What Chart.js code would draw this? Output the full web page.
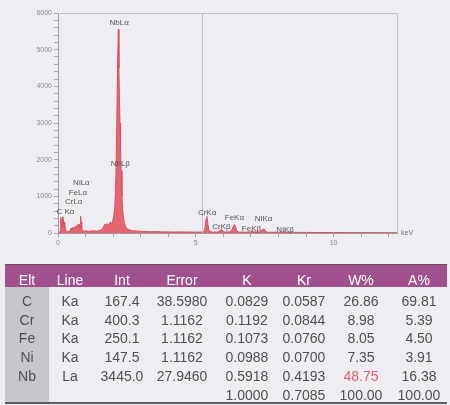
<!DOCTYPE html>
<html>
<head>
<meta charset="utf-8">
<script src="https://cdn.jsdelivr.net/npm/chart.js@4/dist/chart.umd.min.js"></script>
<style>
  html, body { margin: 0; padding: 0; width: 450px; height: 405px; overflow: hidden;
    background: #eeeef2; font-family: "Liberation Sans", Arial, sans-serif; }
  #plot { position: absolute; left: 0; top: 0; }
  #table { position: absolute; left: 0; top: 0; width: 450px; height: 405px; }
  .hdr { position: absolute; left: 5px; top: 264px; width: 442px; height: 22px;
    background: #a1508f; border-top: 1px solid #6d4a63; }
  .eltcol { position: absolute; left: 5px; top: 287px; width: 44px; height: 115px; background: #c7c7cb; }
  .bottom { position: absolute; left: 5px; top: 402px; width: 442px; height: 2px; background: #5e5e62; }
  .cell { position: absolute; width: 80px; text-align: center; font-size: 14px; line-height: 16px;
    color: #4f4f53; white-space: nowrap; }
  .cell.h { color: #ffffff; }
  .cell.hi { color: #e0606e; }
</style>
</head>
<body>
<canvas id="plot" width="450" height="258"></canvas>
<div id="table"></div>
<script>
// EDS spectrum: energy (keV) and counts
const keV = [
  0.00, 0.06, 0.08, 0.10, 0.12, 0.14, 0.16, 0.18, 0.20, 0.22, 0.24, 0.26, 0.28, 0.32, 0.36, 0.40,
  0.44, 0.48, 0.50, 0.53, 0.56, 0.60, 0.63, 0.66, 0.69, 0.72, 0.75, 0.78, 0.80, 0.82, 0.84, 0.86,
  0.90, 0.95, 1.00, 1.10, 1.20, 1.30, 1.40, 1.50, 1.60, 1.65, 1.70, 1.74, 1.78, 1.82, 1.86, 1.90,
  1.94, 1.98, 2.02, 2.06, 2.10, 2.13, 2.16, 2.19, 2.21, 2.23, 2.25, 2.27, 2.29, 2.32, 2.35, 2.38,
  2.42, 2.46, 2.52, 2.60, 2.70, 2.85, 3.00, 3.20, 3.40, 3.60, 3.80, 4.00, 4.20, 4.40, 4.60, 4.80,
  5.00, 5.20, 5.30, 5.34, 5.37, 5.40, 5.43, 5.46, 5.50, 5.60, 5.80, 5.88, 5.93, 5.98, 6.05, 6.25,
  6.32, 6.37, 6.40, 6.44, 6.48, 6.55, 6.80, 6.98, 7.04, 7.10, 7.30, 7.40, 7.45, 7.49, 7.53, 7.60,
  8.00, 8.20, 8.26, 8.32, 9.00, 10.00, 11.00, 12.30
];
const counts = [
  0, 0, 60, 420, 330, 180, 440, 260, 380, 150, 300, 110, 70, 40, 30, 45,
  60, 130, 90, 150, 110, 170, 140, 200, 160, 250, 170, 240, 130, 460, 300, 110,
  70, 50, 60, 45, 55, 60, 50, 70, 90, 170, 240, 200, 260, 210, 250, 300,
  230, 330, 420, 700, 1500, 2800, 4550, 5550, 4500, 3600, 3000, 2300, 1700, 1000, 600, 380,
  250, 160, 110, 80, 60, 55, 45, 40, 35, 40, 30, 30, 25, 30, 25, 28,
  22, 25, 40, 150, 380, 450, 300, 120, 40, 25, 25, 60, 100, 60, 25, 30,
  100, 200, 230, 180, 60, 25, 20, 30, 45, 30, 25, 70, 110, 100, 50, 20,
  20, 25, 35, 20, 15, 12, 10, 8
];

// Peak identification labels (anchor in keV / counts)
const peakNames = ['C Kα', 'CrLα', 'FeLα', 'NiLα', 'NbLα', 'NbLβ', 'CrKα', 'CrKβ', 'FeKα', 'FeKβ', 'NiKα', 'NiKβ'];
const peakLabelKeV = [0.27, 0.57, 0.72, 0.85, 2.22, 2.26, 5.41, 5.93, 6.40, 7.02, 7.46, 8.24];
const peakLabelCounts = [580, 855, 1110, 1372, 5720, 1900, 555, 170, 420, 120, 380, 80];

// Marker cursor position (keV)
const cursorKeV = 5.24;

// Quantification results
const tableHeaders = ['Elt', 'Line', 'Int', 'Error', 'K', 'Kr', 'W%', 'A%'];
const elements = ['C', 'Cr', 'Fe', 'Ni', 'Nb', ''];
const lineNames = ['Ka', 'Ka', 'Ka', 'Ka', 'La', ''];
const intensity = ['167.4', '400.3', '250.1', '147.5', '3445.0', ''];
const errors = ['38.5980', '1.1162', '1.1162', '1.1162', '27.9460', ''];
const kRatio = ['0.0829', '0.1192', '0.1073', '0.0988', '0.5918', '1.0000'];
const krRatio = ['0.0587', '0.0844', '0.0760', '0.0700', '0.4193', '0.7085'];
const weightPct = ['26.86', '8.98', '8.05', '7.35', '48.75', '100.00'];
const atomicPct = ['69.81', '5.39', '4.50', '3.91', '16.38', '100.00'];

const spectrumExtras = {
  id: 'spectrumExtras',
  afterDatasetsDraw(chart) {
    const { ctx, chartArea: a, scales: { x, y } } = chart;
    ctx.save();
    // frame (top / right) and cursor line
    ctx.strokeStyle = '#c2c2c6';
    ctx.lineWidth = 1;
    ctx.beginPath();
    ctx.moveTo(a.left, a.top + 0.5);
    ctx.lineTo(a.right + 0.5, a.top + 0.5);
    ctx.lineTo(a.right + 0.5, a.bottom);
    const cx = Math.round(x.getPixelForValue(cursorKeV)) + 0.5;
    ctx.moveTo(cx, a.top);
    ctx.lineTo(cx, a.bottom);
    ctx.stroke();
    // peak labels
    ctx.fillStyle = '#55555a';
    ctx.font = '8px "Liberation Sans", Arial, sans-serif';
    ctx.textAlign = 'center';
    ctx.textBaseline = 'middle';
    peakNames.forEach((n, i) => {
      ctx.fillText(n, x.getPixelForValue(peakLabelKeV[i]), y.getPixelForValue(peakLabelCounts[i]));
    });
    // axis unit
    ctx.fillStyle = '#77777b';
    ctx.font = '7px "Liberation Sans", Arial, sans-serif';
    ctx.textAlign = 'left';
    ctx.fillText('keV', a.right + 4, a.bottom);
    ctx.restore();
  }
};

new Chart(document.getElementById('plot'), {
  type: 'line',
  data: {
    datasets: [{
      data: keV.map((k, i) => ({ x: k, y: counts[i] })),
      borderColor: '#d8505e',
      backgroundColor: 'rgba(226, 90, 102, 0.92)',
      borderWidth: 1,
      pointRadius: 0,
      fill: 'origin',
      tension: 0
    }]
  },
  options: {
    responsive: false,
    devicePixelRatio: 1,
    animation: false,
    layout: { padding: { top: 13, right: 53, left: 0, bottom: 0 } },
    plugins: { legend: { display: false }, tooltip: { enabled: false } },
    scales: {
      x: {
        type: 'linear', min: 0, max: 12.3,
        grid: { display: true, drawOnChartArea: false, tickLength: 4, tickColor: '#a8a8ac' },
        border: { display: true, color: '#9c9ca0' },
        ticks: {
          stepSize: 1, includeBounds: false, autoSkip: false, maxRotation: 0, padding: 2,
          color: '#8e8e92', font: { size: 7, family: '"Liberation Sans", Arial, sans-serif' },
          callback: v => (v % 5 === 0 ? String(v) : '')
        },
        afterFit: s => { s.height = 25; }
      },
      y: {
        type: 'linear', min: 0, max: 6000,
        grid: { display: true, drawOnChartArea: false, tickLength: 4, tickColor: '#a8a8ac' },
        border: { display: true, color: '#9c9ca0' },
        ticks: {
          stepSize: 200, autoSkip: false, padding: 2,
          color: '#8e8e92', font: { size: 7, family: '"Liberation Sans", Arial, sans-serif' },
          callback: v => (v % 1000 === 0 ? String(v) : '')
        },
        afterFit: s => { s.width = 58; }
      }
    }
  },
  plugins: [spectrumExtras]
});

// Results table
const host = document.getElementById('table');
['hdr', 'eltcol', 'bottom'].forEach(c => {
  const d = document.createElement('div');
  d.className = c;
  host.appendChild(d);
});
const colCenters = [27, 70, 122, 182, 247, 304, 361, 419];
const columns = [elements, lineNames, intensity, errors, kRatio, krRatio, weightPct, atomicPct];
function addCell(text, cx, cy, cls) {
  const d = document.createElement('div');
  d.className = 'cell' + (cls ? ' ' + cls : '');
  d.textContent = text;
  d.style.left = (cx - 40) + 'px';
  d.style.top = (cy - 8) + 'px';
  host.appendChild(d);
}
tableHeaders.forEach((h, c) => addCell(h, colCenters[c], 279.5, 'h'));
columns.forEach((col, c) => {
  col.forEach((v, r) => {
    const hi = (c === 6 && r === 4) ? 'hi' : '';
    addCell(v, colCenters[c], 301 + 18.7 * r, hi);
  });
});
</script>
</body>
</html>
